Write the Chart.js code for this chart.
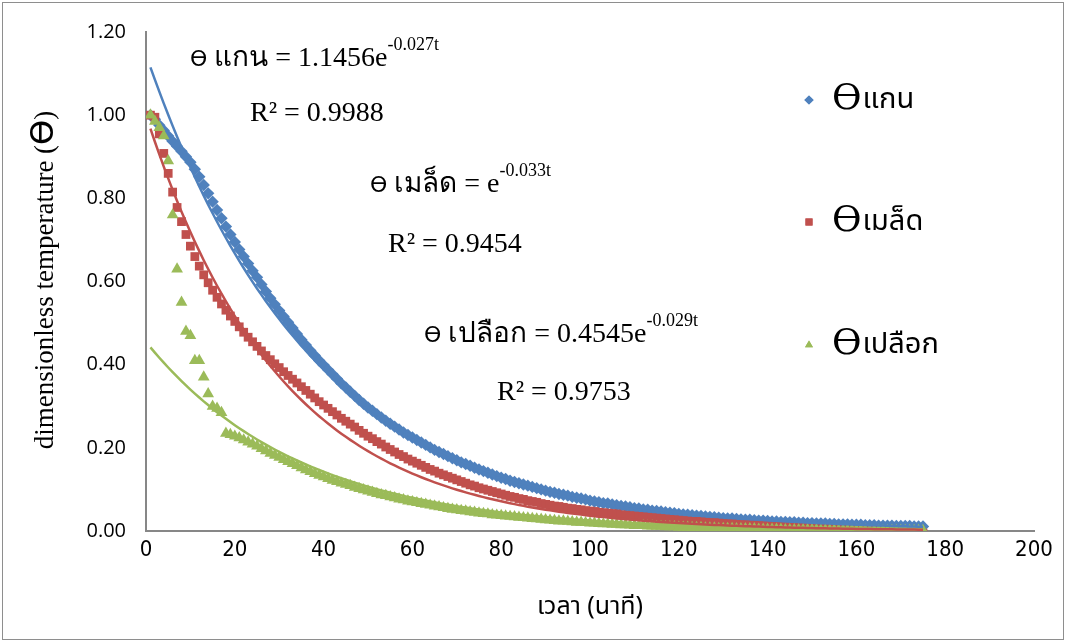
<!DOCTYPE html>
<html>
<head>
<meta charset="utf-8">
<script src="https://cdn.jsdelivr.net/npm/chart.js@4.4.1/dist/chart.umd.min.js"></script>
<style>
  html, body { margin: 0; padding: 0; background: #fff; }
  #wrap { width: 1066px; height: 642px; }
</style>
</head>
<body>
<div id="wrap"><canvas id="coolingChart" width="1066" height="642"></canvas></div>
<script>
// sampled once a minute, first reading at minute 1
const startMinute = 1;

const seriesNames = ['แกน', 'เมล็ด', 'เปลือก'];
const seriesColors = ['#4F81BD', '#C0504D', '#9BBB59'];
const seriesMarkers = ['rectRot', 'rect', 'triangle'];

// exponential fits: theta = a * e^(k t)
const fitA = [1.1456, 1, 0.4545];
const fitK = [-0.027, -0.033, -0.029];
const fitR2 = ['0.9988', '0.9454', '0.9753'];

const coreTheta = [
  1.000, 0.990, 0.976, 0.963, 0.950, 0.937, 0.925, 0.913, 0.900, 0.887,
  0.870, 0.852, 0.832, 0.812, 0.792, 0.772, 0.752, 0.732, 0.713, 0.695,
  0.677, 0.660, 0.643, 0.626, 0.610, 0.593, 0.576, 0.560, 0.545, 0.530,
  0.516, 0.502, 0.488, 0.474, 0.460, 0.447, 0.434, 0.422, 0.410, 0.399,
  0.388, 0.377, 0.366, 0.355, 0.345, 0.335, 0.325, 0.315, 0.306, 0.297,
  0.289, 0.281, 0.273, 0.265, 0.258, 0.251, 0.244, 0.237, 0.231, 0.225,
  0.219, 0.213, 0.207, 0.201, 0.195, 0.190, 0.185, 0.180, 0.175, 0.170,
  0.165, 0.161, 0.157, 0.152, 0.148, 0.144, 0.140, 0.136, 0.132, 0.128,
  0.125, 0.121, 0.118, 0.115, 0.112, 0.109, 0.106, 0.103, 0.100, 0.097,
  0.094, 0.092, 0.089, 0.087, 0.085, 0.082, 0.080, 0.078, 0.076, 0.073,
  0.071, 0.069, 0.067, 0.066, 0.064, 0.062, 0.060, 0.059, 0.057, 0.055,
  0.054, 0.052, 0.051, 0.049, 0.048, 0.047, 0.045, 0.044, 0.043, 0.041,
  0.040, 0.039, 0.038, 0.037, 0.036, 0.035, 0.034, 0.033, 0.032, 0.031,
  0.030, 0.030, 0.029, 0.028, 0.027, 0.027, 0.026, 0.025, 0.025, 0.024,
  0.023, 0.023, 0.022, 0.022, 0.021, 0.021, 0.020, 0.020, 0.019, 0.019,
  0.018, 0.018, 0.018, 0.017, 0.017, 0.016, 0.016, 0.016, 0.015, 0.015,
  0.015, 0.014, 0.014, 0.014, 0.013, 0.013, 0.013, 0.013, 0.012, 0.012,
  0.012, 0.012, 0.011, 0.011, 0.011
];

const seedTheta = [
  1.000, 0.995, 0.955, 0.908, 0.860, 0.815, 0.778, 0.744, 0.713, 0.685,
  0.660, 0.637, 0.616, 0.597, 0.579, 0.562, 0.546, 0.531, 0.517, 0.504,
  0.491, 0.478, 0.466, 0.455, 0.444, 0.433, 0.422, 0.412, 0.402, 0.393,
  0.383, 0.374, 0.365, 0.356, 0.347, 0.338, 0.329, 0.320, 0.311, 0.303,
  0.295, 0.287, 0.279, 0.271, 0.264, 0.257, 0.250, 0.242, 0.235, 0.228,
  0.222, 0.215, 0.209, 0.202, 0.196, 0.190, 0.184, 0.179, 0.173, 0.168,
  0.163, 0.158, 0.153, 0.148, 0.144, 0.139, 0.135, 0.131, 0.127, 0.123,
  0.119, 0.115, 0.111, 0.108, 0.104, 0.101, 0.098, 0.095, 0.092, 0.089,
  0.086, 0.083, 0.081, 0.078, 0.076, 0.073, 0.071, 0.069, 0.066, 0.064,
  0.062, 0.060, 0.059, 0.057, 0.055, 0.054, 0.052, 0.051, 0.049, 0.048,
  0.047, 0.045, 0.044, 0.043, 0.042, 0.041, 0.039, 0.038, 0.037, 0.036,
  0.035, 0.034, 0.033, 0.032, 0.031, 0.030, 0.029, 0.028, 0.027, 0.026,
  0.025, 0.024, 0.023, 0.023, 0.022, 0.021, 0.020, 0.020, 0.019, 0.018,
  0.017, 0.017, 0.016, 0.015, 0.015, 0.014, 0.014, 0.013, 0.012, 0.012,
  0.011, 0.011, 0.010, 0.010, 0.009, 0.009, 0.008, 0.008, 0.007, 0.007,
  0.006, 0.006, 0.005, 0.005, 0.005, 0.004, 0.004, 0.003, 0.003, 0.003,
  0.002, 0.002, 0.001, 0.001, 0.000, -0.001, -0.001, -0.002, -0.002, -0.003,
  -0.003, -0.004, -0.004, -0.005, -0.005
];

const hullTheta = [
  1.000, 0.985, 0.970, 0.950, 0.890, 0.760, 0.630, 0.550, 0.480, 0.470,
  0.410, 0.410, 0.370, 0.330, 0.300, 0.295, 0.285, 0.235, 0.232, 0.228,
  0.224, 0.219, 0.214, 0.209, 0.204, 0.198, 0.193, 0.187, 0.182, 0.177,
  0.172, 0.167, 0.162, 0.157, 0.152, 0.147, 0.143, 0.138, 0.134, 0.130,
  0.126, 0.122, 0.119, 0.115, 0.112, 0.109, 0.105, 0.102, 0.099, 0.096,
  0.093, 0.090, 0.087, 0.085, 0.082, 0.080, 0.077, 0.075, 0.072, 0.070,
  0.068, 0.066, 0.064, 0.062, 0.060, 0.058, 0.056, 0.054, 0.052, 0.051,
  0.049, 0.048, 0.046, 0.045, 0.043, 0.042, 0.041, 0.039, 0.038, 0.037,
  0.036, 0.035, 0.034, 0.033, 0.032, 0.031, 0.030, 0.029, 0.028, 0.027,
  0.026, 0.025, 0.024, 0.024, 0.023, 0.022, 0.021, 0.021, 0.020, 0.019,
  0.019, 0.018, 0.017, 0.017, 0.016, 0.016, 0.015, 0.015, 0.014, 0.013,
  0.013, 0.013, 0.012, 0.012, 0.011, 0.011, 0.010, 0.010, 0.010, 0.009,
  0.009, 0.009, 0.008, 0.008, 0.008, 0.007, 0.007, 0.007, 0.006, 0.006,
  0.006, 0.006, 0.005, 0.005, 0.005, 0.005, 0.005, 0.004, 0.004, 0.004,
  0.004, 0.004, 0.004, 0.003, 0.003, 0.003, 0.003, 0.003, 0.003, 0.003,
  0.003, 0.002, 0.002, 0.002, 0.002, 0.002, 0.002, 0.002, 0.002, 0.002,
  0.002, 0.002, 0.001, 0.001, 0.001, 0.001, 0.001, 0.001, 0.001, 0.001,
  0.001, 0.001, 0.001, 0.001, 0.001
];

const observed = [coreTheta, seedTheta, hullTheta];

const xMin = 0, xMax = 200, xStep = 20;
const yMin = 0, yMax = 1.2, yStep = 0.2;

const toPoints = (values) => values.map((v, i) => ({ x: startMinute + i, y: v }));

// trendline sampled every minute over the measured range
function fitPoints(i) {
  const n = observed[i].length;
  const pts = [];
  for (let j = 0; j < n; j++) {
    const t = startMinute + j;
    pts.push({ x: t, y: fitA[i] * Math.exp(fitK[i] * t) });
  }
  return pts;
}

const markerRadius = [6.2, 6.2, 6.8];

const datasets = [];
// fit lines go on top of the markers
for (let i = 0; i < 3; i++) {
  datasets.push({
    label: 'fit ' + seriesNames[i],
    data: fitPoints(i),
    showLine: true,
    borderColor: seriesColors[i],
    borderWidth: 2.5,
    pointRadius: 0,
    order: i,
  });
}
// later series are painted over earlier ones
for (let i = 0; i < 3; i++) {
  datasets.push({
    label: 'ϴ' + seriesNames[i],
    data: toPoints(observed[i]),
    pointStyle: seriesMarkers[i],
    pointRadius: markerRadius[i],
    pointBackgroundColor: seriesColors[i],
    pointBorderColor: seriesColors[i],
    pointBorderWidth: 0,
    showLine: false,
    order: 6 - i,
  });
}

const serif = '"Liberation Serif", "Times New Roman", serif';
const thai = '"Noto Sans Thai", "Noto Serif Thai", "Tahoma", ' + serif;

function drawEquation(ctx, x, y, i) {
  let cx = x;
  ctx.font = '22px "DejaVu Sans", sans-serif';
  ctx.fillText('ϴ', cx, y);
  cx += ctx.measureText('ϴ').width + 7;
  ctx.font = '28px ' + serif;
  const coef = fitA[i] === 1 ? '' : fitA[i].toFixed(4);
  const body = seriesNames[i] + ' = ' + coef + 'e';
  ctx.fillText(body, cx, y);
  cx += ctx.measureText(body).width;
  ctx.font = '18px ' + serif;
  ctx.fillText(fitK[i].toFixed(3) + 't', cx, y - 16);
}

function drawR2(ctx, x, y, i) {
  ctx.font = '28px ' + serif;
  ctx.fillText('R² = ' + fitR2[i], x, y);
}

const equationPos = [[190, 66], [370, 192], [424, 342]];
const r2Pos = [[250, 121], [388, 252], [497, 400]];
const legendRows = [100, 222, 345];

const overlay = {
  id: 'overlay',
  afterDraw(chart) {
    const ctx = chart.ctx;
    ctx.save();

    // outer frame
    ctx.strokeStyle = '#8e8e8e';
    ctx.lineWidth = 1;
    ctx.strokeRect(2.5, 2.5, 1061, 637);

    ctx.fillStyle = '#000';
    ctx.textBaseline = 'alphabetic';
    ctx.textAlign = 'left';
    for (let i = 0; i < 3; i++) {
      drawEquation(ctx, equationPos[i][0], equationPos[i][1], i);
      drawR2(ctx, r2Pos[i][0], r2Pos[i][1], i);
    }

    // legend
    for (let i = 0; i < 3; i++) {
      const y = legendRows[i];
      ctx.fillStyle = seriesColors[i];
      ctx.strokeStyle = seriesColors[i];
      Chart.helpers.drawPoint(ctx, { pointStyle: seriesMarkers[i], radius: i === 1 ? 5 : 4.6, borderWidth: 0, rotation: 0 }, 809, y);
      ctx.fill();
      ctx.fillStyle = '#000';
      ctx.textBaseline = 'middle';
      ctx.font = '36px "DejaVu Serif", serif';
      ctx.fillText('ϴ', 832, y);
      const w = ctx.measureText('ϴ').width;
      ctx.font = '29px ' + thai;
      ctx.fillText(seriesNames[i], 832 + w + 1, y + 2);
    }

    // y axis title, rotated
    ctx.translate(46, 280);
    ctx.rotate(-Math.PI / 2);
    ctx.textBaseline = 'middle';
    const partA = 'dimensionless temperature (';
    const partB = 'ϴ';
    const partC = ')';
    const fA = '27px ' + serif;
    const fB = '32px "DejaVu Sans", sans-serif';
    ctx.font = fA;
    const wA = ctx.measureText(partA).width;
    const wC = ctx.measureText(partC).width;
    ctx.font = fB;
    const wB = ctx.measureText(partB).width;
    let cx = -(wA + wB + wC) / 2;
    ctx.font = fA;
    ctx.fillText(partA, cx, 0);
    cx += wA;
    ctx.font = fB;
    ctx.fillText(partB, cx, -1);
    cx += wB;
    ctx.font = fA;
    ctx.fillText(partC, cx, 0);
    ctx.restore();
  }
};

new Chart(document.getElementById('coolingChart'), {
  type: 'scatter',
  data: { datasets },
  options: {
    responsive: false,
    animation: false,
    events: [],
    layout: { padding: { top: 19, right: 32, bottom: 0, left: 0 } },
    plugins: {
      legend: { display: false },
      tooltip: { enabled: false },
    },
    scales: {
      x: {
        type: 'linear',
        min: xMin,
        max: xMax,
        ticks: {
          stepSize: xStep,
          color: '#000',
          padding: 6,
          font: { family: '"Liberation Sans Narrow", "DejaVu Sans Condensed", sans-serif', size: 22 },
        },
        grid: { display: false, drawTicks: false },
        border: { display: true, color: '#878787', width: 2 },
        title: {
          display: true,
          text: 'เวลา (นาที)',
          color: '#000',
          font: { family: thai, size: 25 },
          padding: { top: 0, bottom: 18 },
        },
        afterFit(scale) { scale.height = 111; },
      },
      y: {
        min: yMin,
        max: yMax,
        ticks: {
          stepSize: yStep,
          color: '#000',
          padding: 20,
          font: { family: '"Open Sans", "Liberation Sans", sans-serif', size: 20 },
          callback: (v) => Number(v).toFixed(2),
        },
        grid: { display: false, drawTicks: false },
        border: { display: true, color: '#878787', width: 2 },
        afterFit(scale) { scale.width = 146; },
      },
    },
  },
  plugins: [overlay],
});
</script>
</body>
</html>
